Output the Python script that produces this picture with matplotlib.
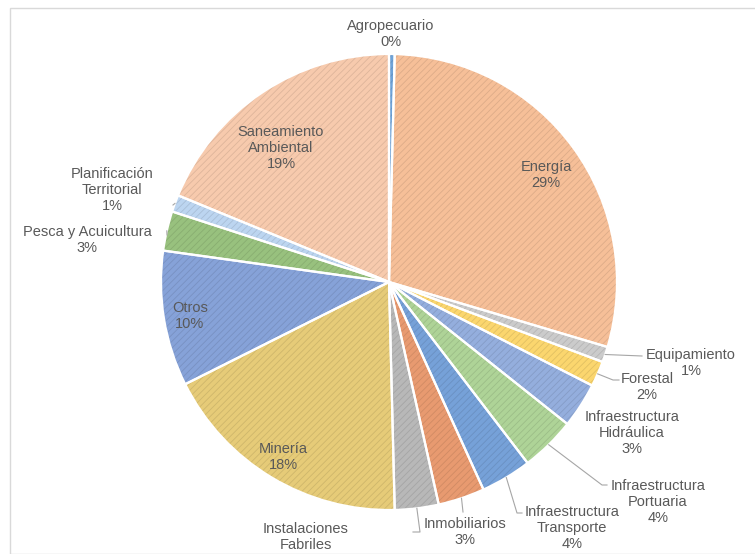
import matplotlib
matplotlib.use("Agg")
import matplotlib.pyplot as plt
import matplotlib.colors as mcolors
from matplotlib.patches import Rectangle
import numpy as np

# Data
labels = ["Agropecuario", "Energía", "Equipamiento", "Forestal",
          "Infraestructura\nHidráulica", "Infraestructura\nPortuaria",
          "Infraestructura\nTransporte", "Inmobiliarios",
          "Instalaciones\nFabriles", "Minería", "Otros",
          "Pesca y Acuicultura", "Planificación\nTerritorial",
          "Saneamiento\nAmbiental"]
values = [0.4, 29.2, 1.1, 1.8, 3.2, 3.9, 3.6, 3.3, 3.1, 18.0, 9.6, 2.8, 1.2, 18.8]
colors = ["#6fa3d8", "#f6bf98", "#cbcbcb", "#fbd66e", "#94aedd", "#aed397",
          "#76a1d8", "#e89a70", "#b8b8b8", "#e6cb78", "#86a2d8", "#98c17e",
          "#bcd5f0", "#f7caad"]

# Layout (pixel coords of the 755x554 picture)
W, H = 755, 554
CX, CY, R = 389, 282, 228


def px(x, y):
    return (x - CX) / R, (CY - y) / R


# label centre, and extra leader points after the wedge edge (None = inside label)
label_pos = {
    "Agropecuario": ((391, 34), []),
    "Energía": ((546, 175), None),
    "Equipamiento": ((691, 363), [(642, 356)]),
    "Forestal": ((647, 387), [(613, 380), (619, 380)]),
    "Infraestructura\nHidráulica": ((632, 433), []),
    "Infraestructura\nPortuaria": ((658, 502), [(602, 485), (607, 485)]),
    "Infraestructura\nTransporte": ((572, 528), [(517, 513), (522, 513)]),
    "Inmobiliarios": ((465, 532), [(463, 512)]),
    "Instalaciones\nFabriles": ((306, 545), [(420, 532), (413, 532)]),
    "Minería": ((283, 457), None),
    "Otros": ((190, 316), None),
    "Pesca y Acuicultura": ((87, 240), [(167, 235)]),
    "Planificación\nTerritorial": ((112, 190), [(173, 205)]),
    "Saneamiento\nAmbiental": ((281, 148), None),
}

plt.rcParams["font.family"] = ["Liberation Sans", "DejaVu Sans"]
plt.rcParams["hatch.linewidth"] = 0.6

fig = plt.figure(figsize=(W / 100, H / 100), dpi=100)
ax = fig.add_axes([0, 0, 1, 1])

# base wedges
wedges, _ = ax.pie(values, colors=colors, startangle=90, counterclock=False,
                   radius=1, center=(0, 0), frame=True,
                   wedgeprops=dict(edgecolor="none", linewidth=0))
# diagonal texture
hatch_cols = []
for c in colors:
    r, g, b = mcolors.to_rgb(c)
    hatch_cols.append((r * 0.7, g * 0.7, b * 0.7, 0.35))
hw, _ = ax.pie(values, colors=["none"] * len(values), startangle=90,
               counterclock=False, radius=1, center=(0, 0), frame=True,
               wedgeprops=dict(linewidth=0, fill=False))
for w, hc in zip(hw, hatch_cols):
    w.set_hatch("/////")
    w.set_edgecolor(hc)
    w.set_linewidth(0)
# white separators
ax.pie(values, colors=["none"] * len(values), startangle=90, counterclock=False,
       radius=1, center=(0, 0), frame=True,
       wedgeprops=dict(edgecolor="white", linewidth=1.6, fill=False))
ax.set_xlim(-CX / R, (W - CX) / R)
ax.set_ylim((CY - H) / R, CY / R)
ax.set_aspect("auto")
ax.axis("off")

txt_col = "#595959"
total = sum(values)
for w, lab, v in zip(wedges, labels, values):
    pos, leader = label_pos[lab]
    tx, ty = px(*pos)
    pct = "{:.0f}%".format(v / total * 100)
    ax.text(tx, ty, lab + "\n" + pct, ha="center", va="center",
            fontsize=10.5, color=txt_col, linespacing=1.2, clip_on=False)
    if leader:
        mid = np.deg2rad((w.theta1 + w.theta2) / 2)
        pts = [(np.cos(mid), np.sin(mid))] + [px(*p) for p in leader]
        xs, ys = zip(*pts)
        ax.plot(xs, ys, color="#a6a6a6", lw=0.8)

# chart area border
fig.patches.append(Rectangle((10 / W, 0), 1, 1 - 8 / H, transform=fig.transFigure,
                             fill=False, edgecolor="#d9d9d9", lw=1))

fig.savefig("out.png", dpi=100, facecolor="white")
